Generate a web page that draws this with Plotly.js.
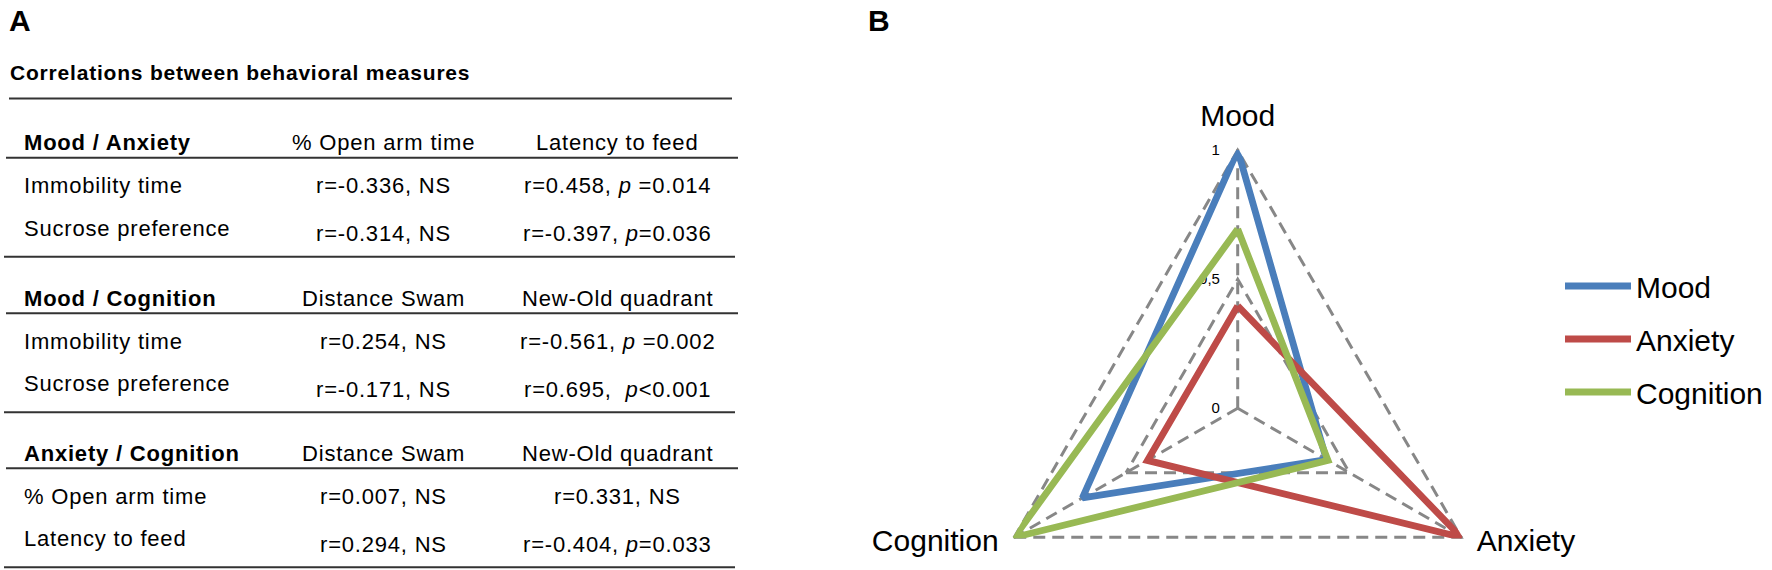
<!DOCTYPE html>
<html><head><meta charset="utf-8">
<script src="https://cdn.plot.ly/plotly-3.0.1.min.js"></script>
<style>
html,body{margin:0;padding:0;overflow:hidden;background:#fff}
#wrap{width:1772px;height:570px;overflow:hidden;position:relative}
.annotation-text{letter-spacing:0.8px}
</style></head>
<body><div id="wrap"><div id="chart"></div></div>
<script>
// ---------- Panel B data (radar) ----------
const radarAxes = ['Mood', 'Anxiety', 'Cognition'];
const seriesNames = ['Mood', 'Anxiety', 'Cognition'];
const moodValues = [1, 0.397, 0.695];
const anxietyValues = [0.397, 1, 0.404];
const cognitionValues = [0.695, 0.404, 1];
const radialTickVals = [0, 0.5, 1];
const radialTickText = ['0', '0,5', '1'];
const seriesColors = ['#4A7EBB', '#BE4B48', '#98B954'];

// ---------- Panel A data (table) ----------
const tableTitle = 'Correlations between behavioral measures';
const sectionTitles = ['Mood / Anxiety', 'Mood / Cognition', 'Anxiety / Cognition'];
const columnHeadersA = ['% Open arm time', 'Distance Swam', 'Distance Swam'];
const columnHeadersB = ['Latency to feed', 'New-Old quadrant', 'New-Old quadrant'];
const rowLabels1 = ['Immobility time', 'Immobility time', '% Open arm time'];
const rowLabels2 = ['Sucrose preference', 'Sucrose preference', 'Latency to feed'];
const colA_row1 = ['r=-0.336, NS', 'r=0.254, NS', 'r=0.007, NS'];
const colA_row2 = ['r=-0.314, NS', 'r=-0.171, NS', 'r=0.294, NS'];
const colB_row1 = ['r=0.458, <i>p</i> =0.014', 'r=-0.561, <i>p</i> =0.002', 'r=0.331, NS'];
const colB_row2 = ['r=-0.397, <i>p</i>=0.036', 'r=0.695,\u00a0 <i>p</i>&lt;0.001', 'r=-0.404, <i>p</i>=0.033'];

// ---------- layout helpers ----------
const W = 1772, H = 720;
const px = x => x / W, py = y => 1 - y / H;
const FONT = '"Liberation Sans", Arial, Helvetica, sans-serif';
const annotations = [];
const shapes = [];
function txt(x, y, text, size, anchor, pad) {
  annotations.push({
    xref: 'paper', yref: 'paper', x: px(x), y: py(y), text: text, showarrow: false,
    xanchor: anchor || 'left', yanchor: 'middle', borderpad: (pad === undefined ? 1 : pad),
    font: {family: FONT, size: size || 22, color: '#000'}
  });
}
function rule(x0, x1, y) {
  shapes.push({type: 'line', xref: 'paper', yref: 'paper', x0: px(x0), x1: px(x1), y0: py(y), y1: py(y),
    line: {color: '#333', width: 2}});
}

txt(8, 20, '<b>A</b>', 30, 'left', 0);
txt(867, 20, '<b>B</b>', 30, 'left', 0);
txt(8, 73, '<b>' + tableTitle + '</b>', 21);
rule(9, 732, 98.5);
const sectionY = [142.7, 298.3, 453.3];
const colAx = 383, colBx = 617, labelX = 22;
sectionY.forEach((y0, i) => {
  txt(labelX, y0, '<b>' + sectionTitles[i] + '</b>', 22);
  txt(colAx, y0, columnHeadersA[i], 22, 'center');
  txt(colBx, y0, columnHeadersB[i], 22, 'center');
  rule(6, 738, y0 + 15);
  txt(labelX, y0 + 43, rowLabels1[i], 22);
  txt(colAx, y0 + 43, colA_row1[i], 22, 'center');
  txt(colBx, y0 + 43, colB_row1[i], 22, 'center');
  txt(labelX, y0 + 85.5, rowLabels2[i], 22);
  txt(colAx, y0 + 91, colA_row2[i], 22, 'center');
  txt(colBx, y0 + 91, colB_row2[i], 22, 'center');
  rule(4, 735, y0 + 114);
});

// ---------- radar ----------
const allSeries = [moodValues, anxietyValues, cognitionValues];
const traces = allSeries.map((v, i) => ({
  type: 'scatterpolar',
  r: v.concat([v[0]]),
  theta: radarAxes.concat([radarAxes[0]]),
  mode: 'lines',
  name: seriesNames[i],
  legendgroup: 'g' + i,
  line: {color: seriesColors[i], width: 6.8},
  hoverinfo: 'skip'
}));

const rMax = 1.01;
const cx = 1237.7, cy = 408.3, R = 258 * rMax;
const gridStyle = {gridcolor: '#878787', gridwidth: 3, griddash: '12px,7px'};
// lower labels get empty extra lines so they sit a little higher
const angularTickText = radarAxes.map((a, i) => i === 0 ? a : a + '<br>\u00a0<br>\u00a0');

const layout = {
  width: W, height: H,
  margin: {l: 0, r: 0, t: 0, b: 0},
  paper_bgcolor: '#fff',
  showlegend: true,
  annotations: annotations,
  shapes: shapes,
  polar: {
    domain: {x: [px(cx - R), px(cx + R)], y: [py(cy + R), py(cy - R)]},
    gridshape: 'linear',
    bgcolor: 'rgba(0,0,0,0)',
    radialaxis: Object.assign({
      range: [0, rMax], tickmode: 'array', tickvals: radialTickVals, ticktext: radialTickText,
      angle: 90, tickangle: 90, side: 'counterclockwise', showline: false,
      ticks: 'outside', ticklen: 12, tickcolor: 'rgba(0,0,0,0)',
      tickfont: {family: FONT, size: 15, color: '#000'}, layer: 'below traces'
    }, gridStyle),
    angularaxis: Object.assign({
      rotation: 90, direction: 'clockwise', showline: false,
      tickmode: 'array', tickvals: radarAxes, ticktext: angularTickText,
      ticks: 'outside', ticklen: 9, tickcolor: 'rgba(0,0,0,0)',
      tickfont: {family: FONT, size: 30, color: '#000'}, layer: 'below traces'
    }, gridStyle)
  },
  legend: {
    x: px(1560), y: py(260), xanchor: 'left', yanchor: 'top',
    font: {family: FONT, size: 30, color: '#000'},
    itemwidth: 66, traceorder: 'grouped', tracegroupgap: 11,
    bgcolor: 'rgba(0,0,0,0)'
  }
};

Plotly.newPlot('chart', traces, layout, {displayModeBar: false, staticPlot: true});
</script>
</body></html>
